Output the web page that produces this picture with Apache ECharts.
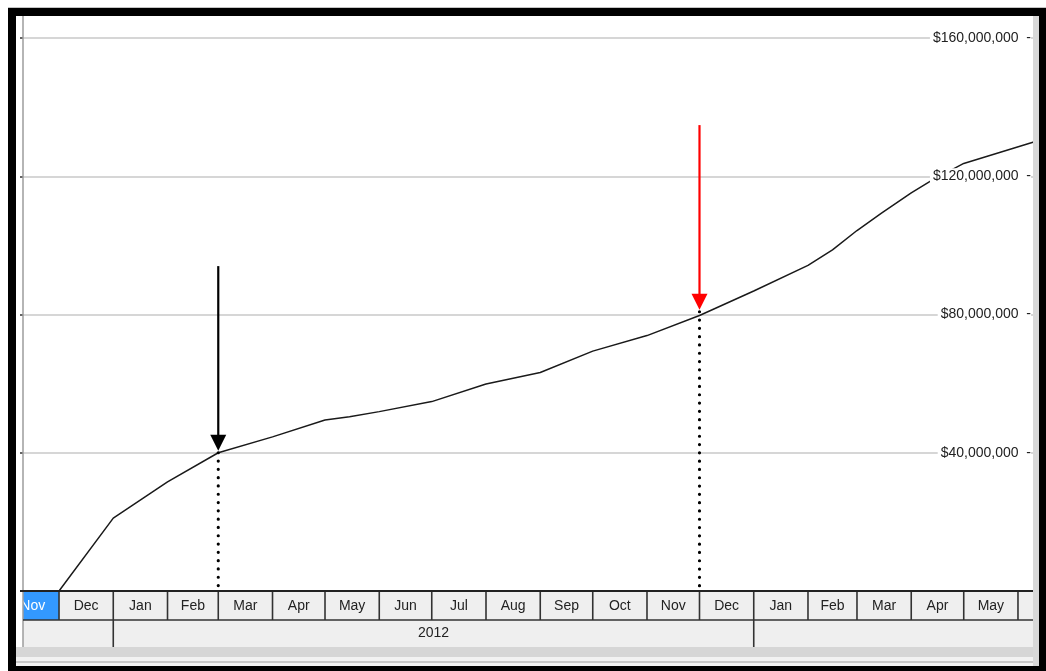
<!DOCTYPE html>
<html><head><meta charset="utf-8">
<script src="https://cdn.jsdelivr.net/npm/echarts@6/dist/echarts.min.js"></script>
<style>html,body{margin:0;padding:0;background:#fff;}#c{width:1046px;height:671px;}</style>
</head><body><div id="c"></div>
<script>
// ---- data ----
const lineDates = ['2011-12-01','2012-01-01','2012-02-01','2012-03-01','2012-04-01','2012-05-01','2012-05-15','2012-06-01','2012-07-01','2012-08-01','2012-09-01','2012-10-01','2012-11-01','2012-12-01','2013-01-01','2013-02-01','2013-02-15','2013-03-01','2013-03-15','2013-04-01','2013-04-12','2013-05-01','2013-06-10'];
const lineValues = [0, 21.1, 31.6, 40.0, 44.6, 49.5, 50.4, 51.9, 54.8, 59.9, 63.2, 69.4, 73.9, 79.7, 86.8, 94.2, 98.7, 104.3, 109.3, 115.2, 118.6, 123.7, 129.9]; // $ millions

const monthLabels = ['Nov','Dec','Jan','Feb','Mar','Apr','May','Jun','Jul','Aug','Sep','Oct','Nov','Dec','Jan','Feb','Mar','Apr','May','Jun'];
const monthStarts = ['2011-11-01','2011-12-01','2012-01-01','2012-02-01','2012-03-01','2012-04-01','2012-05-01','2012-06-01','2012-07-01','2012-08-01','2012-09-01','2012-10-01','2012-11-01','2012-12-01','2013-01-01','2013-02-01','2013-03-01','2013-04-01','2013-05-01','2013-06-01','2013-07-01'];
const highlightMonth = 0;

const yearLabels = ['2011','2012','2013'];
const yearStarts = ['2011-01-01','2012-01-01','2013-01-01','2014-01-01'];

const yTickValues = [0, 40000000, 80000000, 120000000, 160000000];

const arrowDates = ['2012-03-01','2012-12-01'];
const arrowTargets = [40.0, 80.8];   // $ millions (arrow tip)
const arrowTops = [94.0, 134.8];     // $ millions (arrow tail)
const arrowColors = ['#000000','#ff0000'];

// ---- helpers ----
const t = s => { const p = s.split('-').map(Number); return Date.UTC(p[0], p[1]-1, p[2]); };
const xMin = Date.UTC(2011,10,10,10);
const xMax = Date.UTC(2013,5,9,14);
const fmt = v => '$' + String(v).replace(/\B(?=(\d{3})+(?!\d))/g, ',') + '  -';
const FONT = 'Liberation Sans';

function monthItem(params, api){
  const cs = params.coordSys;
  const x0 = api.coord([api.value(0), 0])[0];
  const x1 = api.coord([api.value(1), 0])[0];
  const y0 = cs.y + cs.height;
  const i = params.dataIndex;
  const hl = i === highlightMonth;
  return {type:'group',
    clipPath:{type:'rect', shape:{x:cs.x, y:y0-3, width:cs.width, height:40}},
    children:[
      {type:'rect', shape:{x:x0, y:y0, width:x1-x0, height:29}, style:{fill: hl ? '#3399ff' : '#efefef'}},
      {type:'line', shape:{x1:x0, y1:y0, x2:x0, y2:y0+29}, style:{stroke:'#333', lineWidth:1.6}},
      {type:'text', style:{text:monthLabels[i], x:(x0+x1)/2, y:y0+15, align:'center', verticalAlign:'middle', fontSize:14, fontFamily:FONT, fill: hl ? '#ffffff' : '#222'}}
    ]};
}
function yearItem(params, api){
  const cs = params.coordSys;
  const x0 = api.coord([api.value(0), 0])[0];
  const x1 = api.coord([api.value(1), 0])[0];
  const y0 = cs.y + cs.height + 29;
  const i = params.dataIndex;
  return {type:'group',
    clipPath:{type:'rect', shape:{x:cs.x, y:y0, width:cs.width, height:27}},
    children:[
      {type:'rect', shape:{x:x0, y:y0, width:x1-x0, height:27}, style:{fill:'#efefef'}},
      {type:'line', shape:{x1:x0, y1:y0, x2:x0, y2:y0+27}, style:{stroke:'#333', lineWidth:1.6}},
      {type:'text', style:{text:yearLabels[i], x:(x0+x1)/2, y:y0+13.5, align:'center', verticalAlign:'middle', fontSize:14, fontFamily:FONT, fill:'#222'}}
    ]};
}
function arrowItem(params, api){
  const p = api.coord([api.value(0), api.value(1)]);
  const top = api.coord([api.value(0), api.value(2)]);
  const base = api.coord([api.value(0), 0]);
  const c = arrowColors[params.dataIndex];
  return {type:'group', children:[
    {type:'line', shape:{x1:p[0], y1:p[1], x2:p[0], y2:base[1]-3}, style:{stroke:'#000', lineWidth:3.2, lineDash:[0,8.3], lineCap:'round'}},
    {type:'line', shape:{x1:top[0], y1:top[1], x2:top[0], y2:p[1]-14}, style:{stroke:c, lineWidth:2.2}},
    {type:'polygon', shape:{points:[[p[0]-8,p[1]-18],[p[0]+8,p[1]-18],[p[0],p[1]-2]]}, style:{fill:c}}
  ]};
}

const chart = echarts.init(document.getElementById('c'), null, {renderer:'canvas'});
chart.setOption({
  animation:false,
  backgroundColor:'#ffffff',
  textStyle:{fontFamily:FONT},
  grid:{left:23, right:13, top:38, bottom:80, containLabel:false, outerBoundsMode:'none'},
  xAxis:{type:'time', min:xMin, max:xMax, axisLine:{show:false}, axisTick:{show:false}, axisLabel:{show:false}, splitLine:{show:false}},
  yAxis:[
    {type:'value', min:yTickValues[0], max:yTickValues[yTickValues.length-1], interval:yTickValues[1]-yTickValues[0], position:'left',
     axisLine:{show:false}, axisTick:{show:true, length:3, lineStyle:{color:'#333', width:1.5}}, axisLabel:{show:false},
     splitLine:{show:true, lineStyle:{color:'#c8c8c8', width:1.5}}},
    {type:'value', min:yTickValues[0], max:yTickValues[yTickValues.length-1], interval:yTickValues[1]-yTickValues[0], position:'right', z:10,
     axisLine:{show:false}, axisTick:{show:false}, splitLine:{show:false},
     axisLabel:{show:true, inside:true, margin:2, formatter:fmt, showMinLabel:false, showMaxLabel:true,
       fontSize:14, fontFamily:FONT, color:'#222', backgroundColor:'#ffffff', padding:[1,0,1,3]}}
  ],
  series:[
    {type:'custom', name:'months', renderItem:monthItem, encode:{x:[0,1], y:2}, z:1,
     data: monthLabels.map((l,i)=>[t(monthStarts[i]), t(monthStarts[i+1]), i])},
    {type:'custom', name:'years', renderItem:yearItem, encode:{x:[0,1], y:2}, z:1,
     data: yearLabels.map((l,i)=>[t(yearStarts[i]), t(yearStarts[i+1]), i])},
    {type:'line', name:'value', showSymbol:false, symbol:'none', z:3,
     lineStyle:{color:'#1a1a1a', width:1.5},
     data: lineDates.map((d,i)=>[t(d), lineValues[i]*1e6])},
    {type:'custom', name:'arrows', renderItem:arrowItem, encode:{x:0, y:1}, z:4,
     data: arrowDates.map((d,i)=>[t(d), arrowTargets[i]*1e6, arrowTops[i]*1e6])}
  ],
  graphic:[
    {type:'rect', z:50, shape:{x:8,y:7,width:1038,height:1}, style:{fill:'#c4c4c4'}},
    {type:'rect', z:50, shape:{x:8,y:8,width:1038,height:8}, style:{fill:'#000'}},
    {type:'rect', z:50, shape:{x:8,y:8,width:8,height:663}, style:{fill:'#000'}},
    {type:'rect', z:50, shape:{x:1039,y:8,width:7,height:663}, style:{fill:'#000'}},
    {type:'rect', z:50, shape:{x:8,y:666,width:1038,height:5}, style:{fill:'#000'}},
    {type:'rect', z:50, shape:{x:1033,y:16,width:6,height:650}, style:{fill:'#d8d8d8'}},
    {type:'rect', z:50, shape:{x:16,y:647,width:1017,height:10}, style:{fill:'#d6d6d6'}},
    {type:'rect', z:50, shape:{x:16,y:657,width:1017,height:9}, style:{fill:'#f2f2f2'}},
    {type:'rect', z:50, shape:{x:16,y:661,width:1017,height:2}, style:{fill:'#c8c8c8'}},
    {type:'line', z:100, shape:{x1:23,y1:16,x2:23,y2:647}, style:{stroke:'#9c9c9c', lineWidth:1.5}},
    {type:'line', z:100, shape:{x1:20,y1:591,x2:1033,y2:591}, style:{stroke:'#222', lineWidth:2}},
    {type:'line', z:100, shape:{x1:23,y1:620,x2:1033,y2:620}, style:{stroke:'#333', lineWidth:1.5}}
  ]
});
</script></body></html>
